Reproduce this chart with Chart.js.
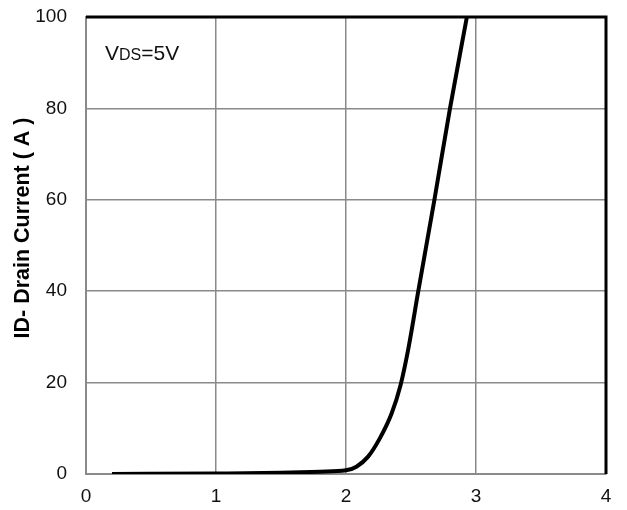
<!DOCTYPE html>
<html>
<head>
<meta charset="utf-8">
<script src="https://cdn.jsdelivr.net/npm/chart.js@4"></script>
<style>
  html, body { margin: 0; padding: 0; background: #fff; }
  #wrap { width: 627px; height: 510px; }
</style>
</head>
<body>
<div id="wrap"><canvas id="chart"></canvas></div>
<script>
// gate voltage (V) and drain current (A)
const vgs = [0.2, 1.0, 1.5, 1.8, 2.0, 2.08, 2.17, 2.26, 2.35, 2.42, 2.48, 2.556, 2.68, 2.80, 2.93];
const idA = [0, 0.1, 0.25, 0.5, 0.8, 1.6, 3.8, 7.8, 13.2, 19.5, 27.5, 40, 60, 80, 100];
const xTicks = [0, 1, 2, 3, 4];
const yTicks = [0, 20, 40, 60, 80, 100];
const yTitle = "ID- Drain Current ( A )";

const points = vgs.map(function (v, i) { return { x: v, y: idA[i] }; });
const FONT = "'Liberation Sans', Arial, sans-serif";

// frame: thick black top/right, gray left/bottom; plus labels
const framePlugin = {
    id: "frame",
    afterDraw: function (chart) {
        const ctx = chart.ctx;
        const a = chart.chartArea;
        ctx.save();
        ctx.strokeStyle = "#000";
        ctx.lineWidth = 3;
        ctx.beginPath();
        ctx.moveTo(a.left, a.top);
        ctx.lineTo(a.right, a.top);
        ctx.lineTo(a.right, a.bottom);
        ctx.stroke();

        // V_DS=5V annotation
        ctx.fillStyle = "#111";
        ctx.textBaseline = "alphabetic";
        ctx.font = "21px " + FONT;
        let x = 105;
        const base = 60;
        ctx.fillText("V", x, base);
        x += ctx.measureText("V").width;
        ctx.font = "16px " + FONT;
        ctx.fillText("DS", x, base);
        x += ctx.measureText("DS").width;
        ctx.font = "21px " + FONT;
        ctx.fillText("=5V", x, base);

        // y axis title
        ctx.translate(23, 228);
        ctx.rotate(-Math.PI / 2);
        ctx.font = "bold 21.5px " + FONT;
        ctx.textAlign = "center";
        ctx.textBaseline = "middle";
        ctx.fillStyle = "#000";
        ctx.fillText(yTitle, 0, 0);
        ctx.restore();
    }
};

new Chart(document.getElementById("chart"), {
    type: "scatter",
    data: {
        datasets: [{
            data: points,
            showLine: true,
            borderColor: "#000",
            borderWidth: 4,
            pointRadius: 0,
            cubicInterpolationMode: "monotone",
            fill: false
        }]
    },
    options: {
        responsive: true,
        maintainAspectRatio: false,
        animation: false,
        layout: { padding: { top: 17, right: 21, left: 0, bottom: 0 } },
        plugins: { legend: { display: false }, tooltip: { enabled: false } },
        scales: {
            x: {
                type: "linear",
                min: 0,
                max: 4,
                afterBuildTicks: function (s) { s.ticks = xTicks.map(function (v) { return { value: v }; }); },
                afterFit: function (s) { s.height = 36; s.paddingLeft = 0; s.paddingRight = 0; },
                grid: { color: "#8a8a8a", lineWidth: 1.5, drawTicks: false },
                border: { color: "#8a8a8a", width: 2 },
                ticks: {
                    color: "#111",
                    padding: 11,
                    font: { family: FONT, size: 19 }
                }
            },
            y: {
                min: 0,
                max: 100,
                afterBuildTicks: function (s) { s.ticks = yTicks.map(function (v) { return { value: v }; }); },
                afterFit: function (s) { s.width = 86; s.paddingTop = 0; s.paddingBottom = 0; },
                grid: { color: "#8a8a8a", lineWidth: 1.5, drawTicks: false },
                border: { color: "#8a8a8a", width: 2 },
                ticks: {
                    color: "#111",
                    padding: 19,
                    font: { family: FONT, size: 19 }
                }
            }
        }
    },
    plugins: [framePlugin]
});
</script>
</body>
</html>
